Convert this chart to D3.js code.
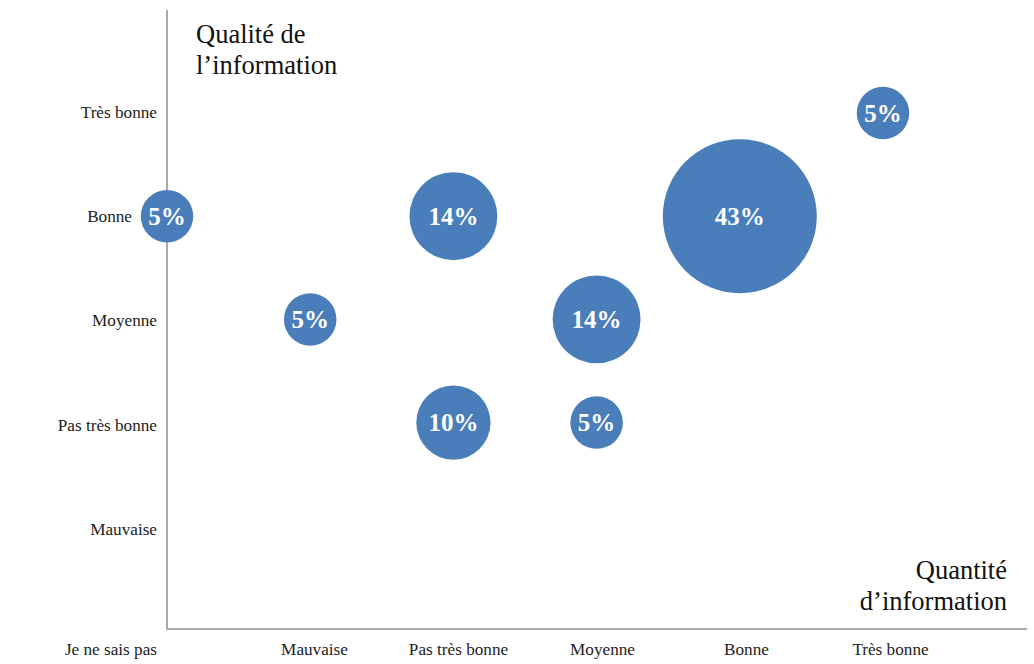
<!DOCTYPE html>
<html>
<head>
<meta charset="utf-8">
<script src="https://cdn.jsdelivr.net/npm/d3@7"></script>
<style>
  html, body { margin: 0; padding: 0; background: #fff; }
  svg { display: block; }
  text { font-family: "Liberation Serif", "Times New Roman", serif; }
</style>
</head>
<body>
<svg id="chart" width="1034" height="664"></svg>
<script>
// Categories (scale 0..5)
const xLabels = ["Je ne sais pas", "Mauvaise", "Pas très bonne", "Moyenne", "Bonne", "Très bonne"];
const yLabels = ["Je ne sais pas", "Mauvaise", "Pas très bonne", "Moyenne", "Bonne", "Très bonne"];

// Bubbles: quantity (x index), quality (y index), share (%)
const bubbleX = [0, 1, 2, 2, 3, 3, 4, 5];
const bubbleY = [4, 3, 4, 2, 3, 2, 4, 5];
const bubbleV = [5, 5, 14, 10, 14, 5, 43, 5];

const yTitle = ["Qualité de", "l’information"];
const xTitle = ["Quantité", "d’information"];

const svg = d3.select("#chart");

const x = d3.scaleLinear().domain([0, 5]).range([167, 883]);
const y = d3.scaleLinear().domain([0, 5]).range([629, 113]);
const xLab = d3.scaleLinear().domain([0, 5]).range([170, 890]);
const yLab = d3.scaleLinear().domain([0, 5]).range([633, 112]);
const r = d3.scaleSqrt().domain([0, 43]).range([0, 77]);

// axis lines
svg.append("line").attr("x1", 167).attr("x2", 167).attr("y1", 10).attr("y2", 629)
  .attr("stroke", "#a9a9a9").attr("stroke-width", 2);
svg.append("line").attr("x1", 166).attr("x2", 1027).attr("y1", 629).attr("y2", 629)
  .attr("stroke", "#a9a9a9").attr("stroke-width", 2);

// y tick labels
const yAxis = d3.axisLeft(yLab).tickValues(d3.range(0, 6)).tickSize(0).tickPadding(0)
  .tickFormat(i => yLabels[i]);
const gy = svg.append("g").attr("transform", "translate(157,0)").call(yAxis);
gy.select(".domain").remove();
gy.selectAll("text")
  .attr("font-size", 17.2)
  .attr("fill", "#222")
  .attr("dy", "0.32em")
  .attr("x", i => i === 4 ? -25 : 0)
  .attr("y", i => i === 0 ? 16 : 0);

// x tick labels (index 0 is shown by the y axis, below the origin)
const xAxis = d3.axisBottom(xLab).tickValues(d3.range(1, 6)).tickSize(0).tickPadding(0)
  .tickFormat(i => xLabels[i]);
const gx = svg.append("g").attr("transform", "translate(0,643)").call(xAxis);
gx.select(".domain").remove();
gx.selectAll("text")
  .attr("font-size", 17.2)
  .attr("fill", "#222")
  .attr("dy", "0.32em").attr("y", 6);

// bubbles
const data = bubbleV.map((v, i) => ({ x: bubbleX[i], y: bubbleY[i], v }));
const g = svg.append("g");
g.selectAll("circle").data(data).join("circle")
  .attr("cx", d => x(d.x)).attr("cy", d => y(d.y)).attr("r", d => r(d.v))
  .attr("fill", "#4a7ebb");
g.selectAll("text").data(data).join("text")
  .attr("x", d => x(d.x)).attr("y", d => y(d.y)).attr("dy", "0.34em")
  .attr("text-anchor", "middle")
  .attr("font-size", 25).attr("font-weight", "bold").attr("fill", "#fff")
  .text(d => d.v + "%");

// axis titles
svg.append("text").attr("x", 196).attr("y", 43).attr("font-size", 26.5).attr("fill", "#111")
  .selectAll("tspan").data(yTitle).join("tspan")
  .attr("x", 196).attr("dy", (d, i) => i === 0 ? 0 : 31).text(d => d);

svg.append("text").attr("x", 1007).attr("y", 579).attr("font-size", 26.5).attr("fill", "#111")
  .attr("text-anchor", "end")
  .selectAll("tspan").data(xTitle).join("tspan")
  .attr("x", 1007).attr("dy", (d, i) => i === 0 ? 0 : 31).text(d => d);
</script>
</body>
</html>
